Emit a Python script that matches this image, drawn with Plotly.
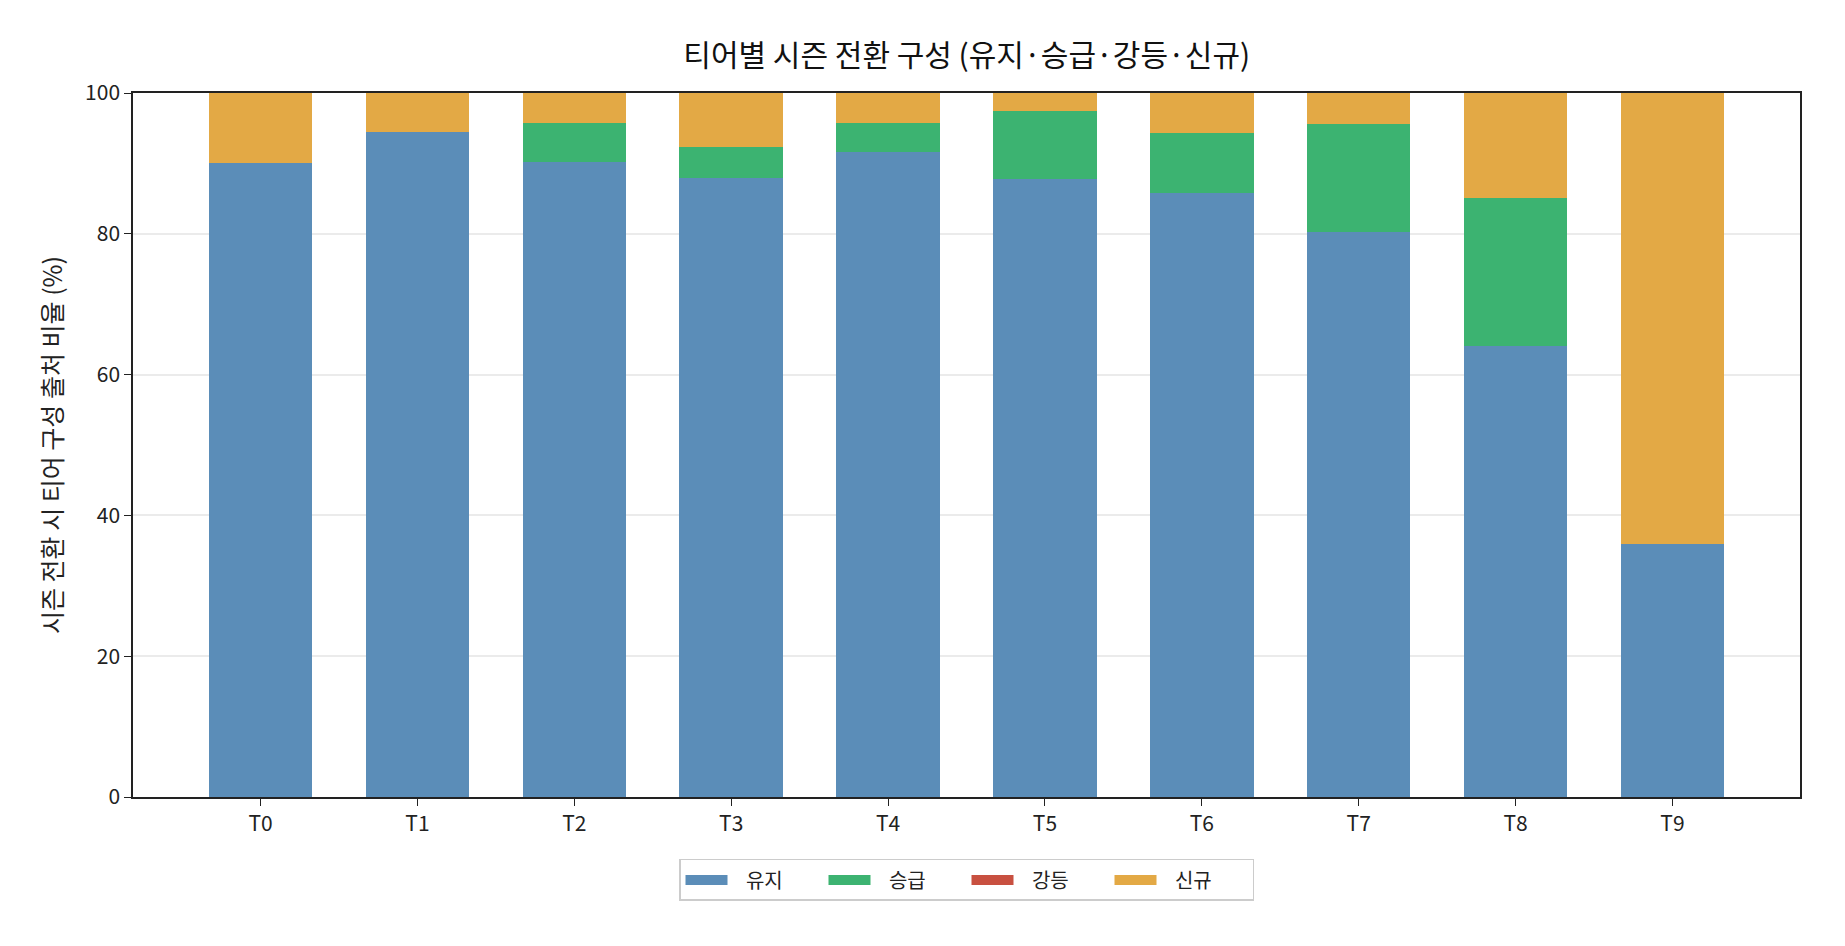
import plotly.graph_objects as go

categories = ["T0", "T1", "T2", "T3", "T4", "T5", "T6", "T7", "T8", "T9"]
keep = [90.0, 94.4, 90.2, 87.9, 91.6, 87.8, 85.8, 80.2, 64.1, 36.0]
promote = [0.0, 0.0, 5.5, 4.4, 4.2, 9.6, 8.5, 15.4, 21.0, 0.0]
demote = [0.0, 0.0, 0.0, 0.0, 0.0, 0.0, 0.0, 0.0, 0.0, 0.0]
new = [10.0, 5.6, 4.3, 7.7, 4.2, 2.6, 5.7, 4.4, 14.9, 64.0]

series_names = ["유지", "승급", "강등", "신규"]
series_values = [keep, promote, demote, new]
series_colors = ["#5B8DB8", "#3CB371", "#C85040", "#E3A945"]

FONT = "Noto Sans CJK KR"
BAR_W = 0.66
PAD = "\u00a0\u00a0\u00a0"

fig = go.Figure()
for name, vals, col in zip(series_names, series_values, series_colors):
    fig.add_trace(go.Bar(
        x=list(range(len(categories))), y=vals, name=name,
        marker=dict(color=col, line=dict(width=0)),
        width=BAR_W, showlegend=False, legendgroup=name,
    ))
# legend entries drawn as wide patches
for name, col in zip(series_names, series_colors):
    fig.add_trace(go.Scatter(
        x=[None], y=[None], mode="lines", name=PAD + name, legendgroup=name,
        line=dict(color=col, width=14),
    ))

fig.update_layout(
    barmode="stack",
    width=1845, height=946,
    paper_bgcolor="white", plot_bgcolor="white",
    margin=dict(l=133, r=45, t=93, b=149),
    font=dict(family=FONT, size=20, color="#222"),
    title=dict(text="티어별 시즌 전환 구성 (유지·승급·강등·신규)",
               x=0.524, xanchor="center", y=0.941, yanchor="middle",
               font=dict(size=30, color="#111")),
    legend=dict(orientation="h", x=0.5, xanchor="center", y=-0.088, yanchor="top",
                bordercolor="#CCCCCC", borderwidth=1.5, bgcolor="white",
                font=dict(size=20), itemwidth=42, traceorder="normal",
                entrywidth=86),
    bargap=0,
)
fig.update_xaxes(
    tickmode="array", tickvals=list(range(len(categories))), ticktext=categories,
    range=[-0.813, 9.813], showline=True, mirror=True, linecolor="#222", linewidth=1.5,
    ticks="outside", ticklen=7, tickcolor="#222", showgrid=False, zeroline=False,
    tickfont=dict(size=21),
)
fig.update_yaxes(
    range=[0, 100], tickvals=[0, 20, 40, 60, 80, 100],
    showline=True, mirror=True, linecolor="#222", linewidth=1.5,
    ticks="outside", ticklen=7, tickcolor="#222",
    showgrid=True, gridcolor="rgba(190,190,190,0.3)", gridwidth=1.5, zeroline=False,
    layer="above traces",
    title=dict(text="시즌 전환 시 티어 구성 출처 비율 (%)", font=dict(size=25), standoff=15),
    tickfont=dict(size=21),
)

fig.write_html("out.html")
